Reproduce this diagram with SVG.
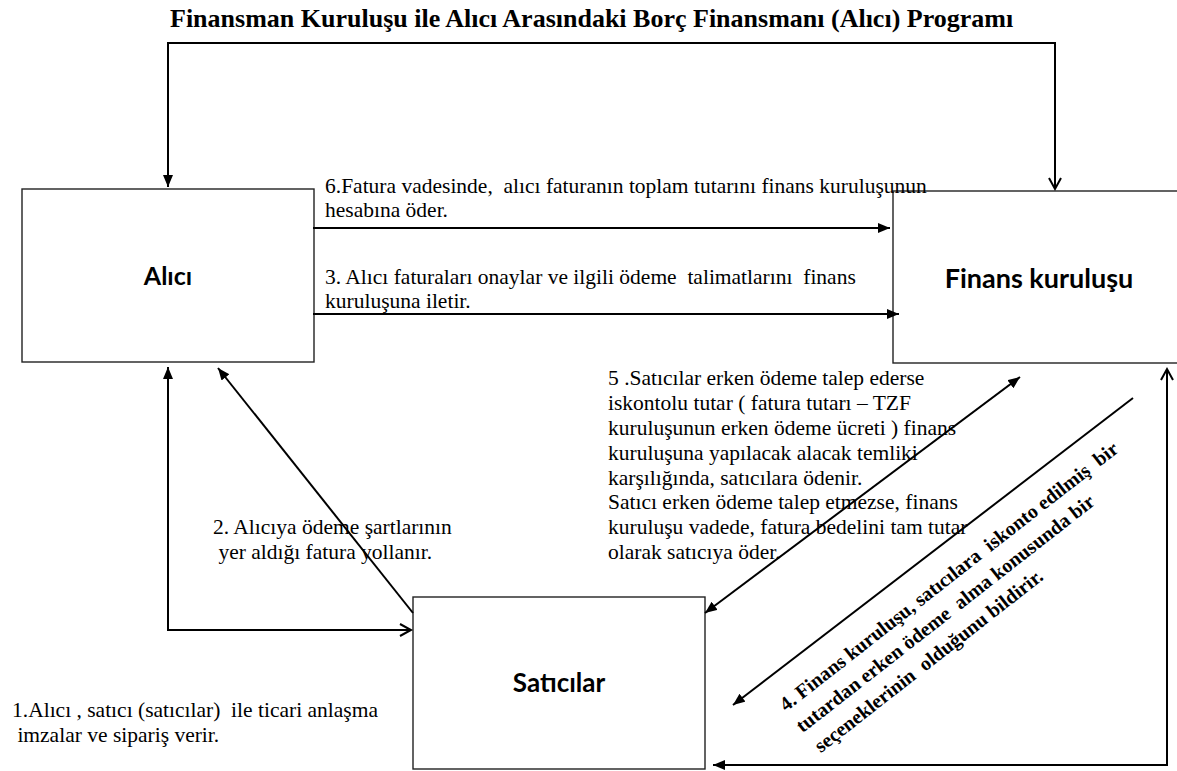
<svg xmlns="http://www.w3.org/2000/svg" width="1177" height="771" viewBox="0 0 1177 771">
<style>
.box{fill:#fff;stroke:#222;stroke-width:1.4}
.lbl{font-family:"Lato","Open Sans","Liberation Sans",sans-serif;font-weight:bold;fill:#000;text-anchor:middle}
.t{font-family:"Liberation Serif","Times New Roman",serif;font-size:21.5px;fill:#000;white-space:pre}
.title{font-family:"Liberation Serif","Times New Roman",serif;font-size:26px;font-weight:bold;fill:#000}
.c{fill:none;stroke:#000;stroke-width:2}
.rot{font-family:"Liberation Serif","Times New Roman",serif;font-size:20px;font-weight:bold;fill:#000;white-space:pre}
</style>
<defs>
<marker id="fa" markerUnits="userSpaceOnUse" markerWidth="14" markerHeight="12" refX="12" refY="5" orient="auto-start-reverse" viewBox="0 0 14 12"><path d="M0,0 L12,5 L0,10 z" fill="#000"/></marker>
<marker id="oa" markerUnits="userSpaceOnUse" markerWidth="16" markerHeight="16" refX="12" refY="7" orient="auto-start-reverse" viewBox="0 0 16 16"><path d="M1,1 L12,7 L1,13" fill="none" stroke="#000" stroke-width="2"/></marker>
</defs>
<text class="title" x="170" y="27">Finansman Kuruluşu ile Alıcı Arasındaki Borç Finansmanı (Alıcı) Programı</text>
<g id="alici"><rect class="box" x="22" y="189" width="292" height="173"/><text class="lbl" x="168" y="285" font-size="25">Alıcı</text></g>
<g id="finans"><rect class="box" x="893" y="191" width="300" height="172"/><text class="lbl" x="1039" y="288" font-size="27">Finans kuruluşu</text></g>
<g id="saticilar"><rect class="box" x="413" y="597" width="292" height="172"/><text class="lbl" x="559" y="692" font-size="26">Satıcılar</text></g>
<g id="connectors">
<path class="c" d="M168,187 V43 H1055 V189" marker-start="url(#fa)" marker-end="url(#oa)"/>
<path class="c" d="M313,228 H890" marker-end="url(#fa)"/>
<path class="c" d="M313,314 H899" marker-end="url(#fa)"/>
<path class="c" d="M168,367 V630 H411" marker-start="url(#fa)" marker-end="url(#oa)"/>
<path class="c" d="M413,613 L218,368" marker-end="url(#fa)" stroke-width="1.8"/>
<path class="c" d="M705,613 L1020,377" marker-start="url(#fa)" marker-end="url(#fa)" stroke-width="1.8"/>
<path class="c" d="M1133,398 L733,705" marker-end="url(#fa)" stroke-width="1.8"/>
<path class="c" d="M1167,369 V765 H713" marker-start="url(#oa)" marker-end="url(#fa)"/>
</g>
<g id="labels">
<text class="t" x="325" y="193">6.Fatura vadesinde,  alıcı faturanın toplam tutarını finans kuruluşunun</text>
<text class="t" x="325" y="217">hesabına öder.</text>
<text class="t" x="325" y="284">3. Alıcı faturaları onaylar ve ilgili ödeme  talimatlarını  finans</text>
<text class="t" x="325" y="308">kuruluşuna iletir.</text>
<text class="t" x="608" y="385">5 .Satıcılar erken ödeme talep ederse</text>
<text class="t" x="608" y="410">iskontolu tutar ( fatura tutarı – TZF</text>
<text class="t" x="608" y="435">kuruluşunun erken ödeme ücreti ) finans</text>
<text class="t" x="608" y="460">kuruluşuna yapılacak alacak temliki</text>
<text class="t" x="608" y="485">karşılığında, satıcılara ödenir.</text>
<text class="t" x="608" y="509">Satıcı erken ödeme talep etmezse, finans</text>
<text class="t" x="608" y="534">kuruluşu vadede, fatura bedelini tam tutar</text>
<text class="t" x="608" y="559">olarak satıcıya öder.</text>
<text class="t" x="213" y="534">2. Alıcıya ödeme şartlarının</text>
<text class="t" x="213" y="559"> yer aldığı fatura yollanır.</text>
<text class="t" x="12" y="717">1.Alıcı , satıcı (satıcılar)  ile ticari anlaşma</text>
<text class="t" x="12" y="742"> imzalar ve sipariş verir.</text>
<g transform="translate(786,712) rotate(-38)">
<text class="rot" x="0" y="0">4. Finans kuruluşu, satıcılara  iskonto edilmiş  bir</text>
<text class="rot" x="0" y="27">tutardan erken ödeme  alma konusunda bir</text>
<text class="rot" x="2" y="54">seçeneklerinin  olduğunu bildirir.</text>
</g>
</g>
</svg>
